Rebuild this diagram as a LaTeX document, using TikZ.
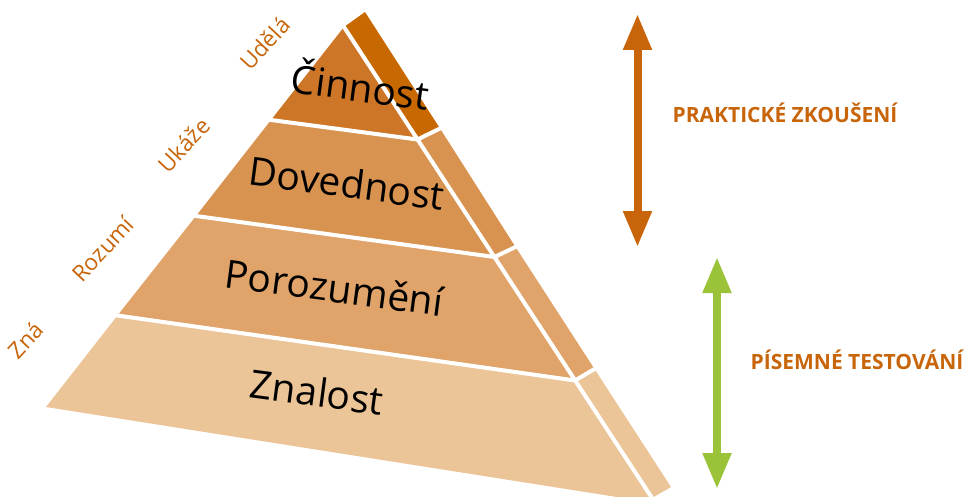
\documentclass[tikz,border=0pt]{standalone}
\usepackage{fontspec}
\setmainfont{Open Sans}
\usetikzlibrary{arrows.meta,calc}
\definecolor{tonef}{HTML}{CD7628}
\definecolor{tones}{HTML}{C86800}
\definecolor{ttwo}{HTML}{D99350}
\definecolor{tthree}{HTML}{E0A369}
\definecolor{tfour}{HTML}{EBC498}
\definecolor{orng}{HTML}{C8650A}
\definecolor{grn}{HTML}{9BC33A}
\begin{document}
\begin{tikzpicture}[x=1pt,y=-1pt,
  gap/.style={white, line width=4pt, shorten <=-6pt, shorten >=-6pt},
  tierlabel/.style={font=\fontsize{39}{41}\selectfont, text=black, anchor=base, rotate=-7.5, inner sep=0pt},
  sidelabel/.style={font=\fontsize{22.5}{24}\selectfont, text=orng, anchor=base, rotate=47, inner sep=0pt},
  testlabel/.style={font=\bfseries\fontsize{21}{23}\selectfont, text=orng, anchor=base, inner sep=0pt},
  dbl/.style={line width=8pt, {Triangle[width=27pt,length=36pt]}-{Triangle[width=27pt,length=36pt]}}
]
\useasboundingbox (0,0) rectangle (971,497);
\clip (0,0) rectangle (971,497);
% front face
\coordinate (A) at (344,27);
\coordinate (P1) at (271,120);
\coordinate (P2) at (196,216);
\coordinate (P3) at (117.5,315.5);
\coordinate (L) at (46,407);
\coordinate (Q1) at (417.5,139.5);
\coordinate (Q2) at (494.5,257);
\coordinate (Q3) at (575,380.5);
\coordinate (R) at (655,503);
% side face
\coordinate (S0) at (365,12);
\coordinate (S1) at (440,128.5);
\coordinate (S2) at (515.5,247);
\coordinate (S3) at (594.5,369);
\coordinate (S4) at (671,487);
\coordinate (Rb) at (652,498);
% fills
\fill[tonef] (A) -- (P1) -- (Q1) -- cycle;
\fill[ttwo] (P1) -- (P2) -- (Q2) -- (Q1) -- cycle;
\fill[tthree] (P2) -- (P3) -- (Q3) -- (Q2) -- cycle;
\fill[tfour] (P3) -- (L) -- (R) -- (Q3) -- cycle;
\fill[tones] (A) -- (S0) -- (S1) -- (Q1) -- cycle;
\fill[ttwo] (Q1) -- (S1) -- (S2) -- (Q2) -- cycle;
\fill[tthree] (Q2) -- (S2) -- (S3) -- (Q3) -- cycle;
\fill[tfour] (Q3) -- (S3) -- (S4) -- (Rb) -- cycle;
% white gaps
\draw[gap] (P1) -- (Q1) -- (S1);
\draw[gap] (P2) -- (Q2) -- (S2);
\draw[gap] (P3) -- (Q3) -- (S3);
\draw[gap] (A) -- (Rb);
% tier labels
\node[tierlabel] (cin) at (358.5,101.5) {Činnost};
\node[tierlabel] (dov) at (345,197.5) {Dovednost};
\node[tierlabel] (por) at (332.5,302) {Porozumění};
\node[tierlabel] (zna) at (315,406.5) {Znalost};
% side labels
\node[sidelabel] (udela) at (271,49) {Udělá};
\node[sidelabel] (ukaze) at (190,151) {Ukáže};
\node[sidelabel] (rozumi) at (109,255) {Rozumí};
\node[sidelabel] (znaa) at (32,346) {Zná};
% arrows
\coordinate (ot) at (637.5,14);
\coordinate (ob) at (637.5,247);
\coordinate (gt) at (717,257);
\coordinate (gb) at (717,489);
\draw[dbl, orng] (ot) -- (ob);
\draw[dbl, grn] (gt) -- (gb);
\node[testlabel] (prak) at (785,123) {PRAKTICKÉ ZKOUŠENÍ};
\node[testlabel] (pis) at (857,369) {PÍSEMNÉ TESTOVÁNÍ};
\end{tikzpicture}
\end{document}
